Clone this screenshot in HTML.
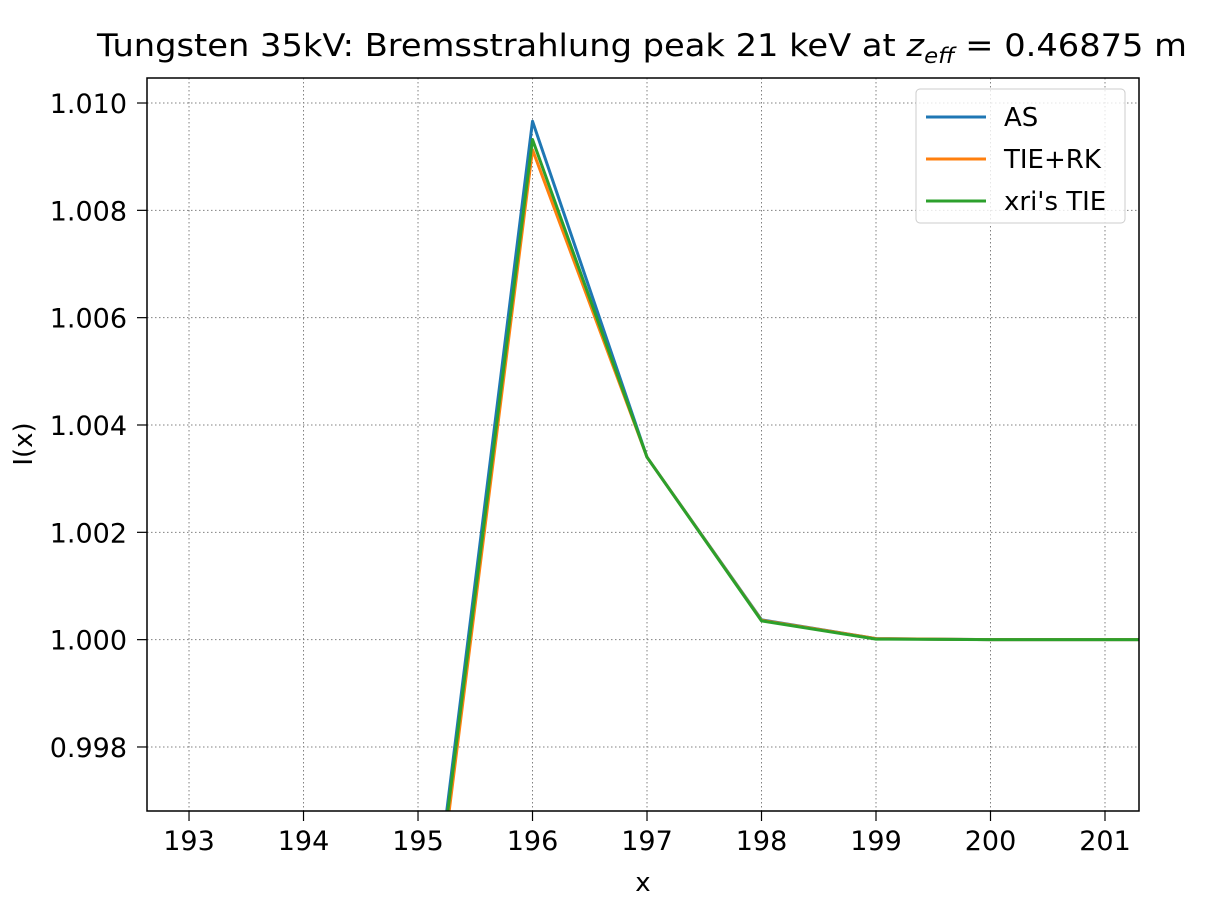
<!DOCTYPE html>
<html><head><meta charset="utf-8"><style>
html,body{margin:0;padding:0;background:#fff;overflow:hidden;width:1223px;height:908px}
svg{display:block;font-family:"DejaVu Sans","Liberation Sans",sans-serif}
</style></head><body>
<svg id="chart" width="1223" height="908">
<text x="97" y="56" font-size="31" textLength="1090" lengthAdjust="spacingAndGlyphs">Tungsten 35kV: Bremsstrahlung peak 21 keV at <tspan font-style="italic">z</tspan><tspan font-style="italic" font-size="21" dy="7">eff</tspan><tspan dy="-7"> = 0.46875 m</tspan></text>
<g id="grid"></g>
<g id="series"></g>
<rect x="147" y="78" width="992" height="733" fill="none" stroke="#000" stroke-width="1.5"/>
<g id="ticks"></g>
<text x="643" y="891" font-size="26" text-anchor="middle">x</text>
<text x="32" y="444" font-size="26" text-anchor="middle" transform="rotate(-90 32 444)">I(x)</text>
<g id="legend"></g>
</svg>
<script>
const xTicks=[193,194,195,196,197,198,199,200,201];
const yTicks=[0.998,1.000,1.002,1.004,1.006,1.008,1.010];
const yTickLabels=["0.998","1.000","1.002","1.004","1.006","1.008","1.010"];
const xs=[194,195,196,197,198,199,200,201,202];
const asVals=[0.985,0.9925,1.00966,1.00340,1.00037,1.00002,1.0,1.0,1.0];
const tieVals=[0.985,0.9922,1.00913,1.00340,1.00036,1.00002,1.0,1.0,1.0];
const xriVals=[0.985,0.9924,1.00932,1.00340,1.00035,1.00001,1.0,1.0,1.0];
const seriesNames=["AS","TIE+RK","xri's TIE"];
const colors=["#1f77b4","#ff7f0e","#2ca02c"];
const L=147,R=1139,T=78,B=811,xmin=192.633,xmax=201.297,ymin=0.996807,ymax=1.010466;
const sx=v=>L+(v-xmin)/(xmax-xmin)*(R-L);
const sy=v=>B-(v-ymin)/(ymax-ymin)*(B-T);
const NS="http://www.w3.org/2000/svg";
function mk(tag,attrs,parent){const e=document.createElementNS(NS,tag);for(const k in attrs)e.setAttribute(k,attrs[k]);parent.appendChild(e);return e;}
const grid=document.getElementById('grid'),ticks=document.getElementById('ticks');
xTicks.forEach(t=>{const x=sx(t);
 const g=mk('line',{x1:x,x2:x,y1:T,y2:B,stroke:'#808080','stroke-width':1,'stroke-dasharray':'1.5,2.5'},grid);
 
 const tk=mk('line',{x1:x,x2:x,y1:B,y2:B+10,stroke:'#000','stroke-width':1.2},ticks);
 
 const tx=mk('text',{x:x,y:B+39,'font-size':27,'text-anchor':'middle'},ticks);tx.textContent=t;
 });
yTicks.forEach((t,i)=>{const y=sy(t);
 const g=mk('line',{x1:L,x2:R,y1:y,y2:y,stroke:'#808080','stroke-width':1,'stroke-dasharray':'1.5,2.5'},grid);
 
 const tk=mk('line',{x1:L-10,x2:L,y1:y,y2:y,stroke:'#000','stroke-width':1.2},ticks);
 
 const tx=mk('text',{x:L-20,y:y+10,'font-size':27,'text-anchor':'end'},ticks);tx.textContent=yTickLabels[i];
 });
const defs=mk('defs',{},document.getElementById('chart'));
const cp=mk('clipPath',{id:'clip'},defs);mk('rect',{x:L,y:T,width:R-L,height:B-T},cp);
const sg=document.getElementById('series');sg.setAttribute('clip-path','url(#clip)');
[asVals,tieVals,xriVals].forEach((vals,i)=>{
 const p=mk('polyline',{points:xs.map((x,j)=>sx(x)+','+sy(vals[j])).join(' '),fill:'none',stroke:colors[i],'stroke-width':3,'stroke-linejoin':'round'},sg);
 });
const lg=document.getElementById('legend');
const box=mk('rect',{x:916,y:89,width:209,height:134,rx:4,fill:'#fff','fill-opacity':0.8,stroke:'#ccc','stroke-width':1},lg);

seriesNames.forEach((n,i)=>{const y=117+42*i;
 const l=mk('line',{x1:926,x2:986,y1:y,y2:y,stroke:colors[i],'stroke-width':3},lg);
 
 const t=mk('text',{x:1004,y:y+9,'font-size':26},lg);t.textContent=n;
 });
</script>
</body></html>
